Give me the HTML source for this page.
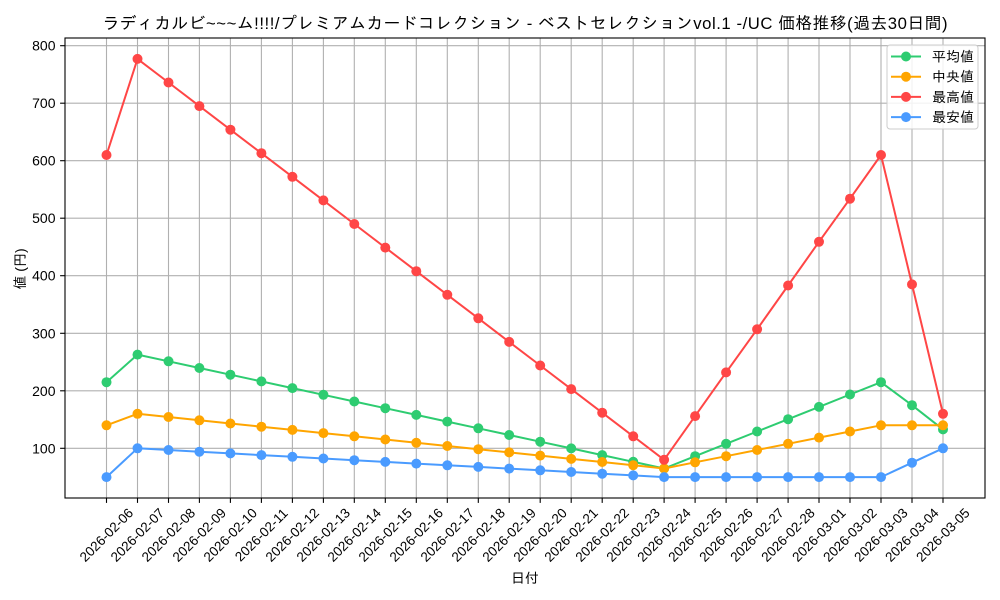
<!DOCTYPE html>
<html>
<head>
<meta charset="utf-8">
<style>
  html, body { margin: 0; padding: 0; background: #ffffff; }
  svg { display: block; font-family: "Liberation Sans", "IPAGothic", sans-serif; }
</style>
</head>
<body>
<svg width="1000" height="600" viewBox="0 0 1000 600" xmlns="http://www.w3.org/2000/svg">
  <defs>
    <marker id="mg" markerUnits="userSpaceOnUse" markerWidth="12" markerHeight="12" viewBox="0 0 12 12" refX="6" refY="6" overflow="visible"><circle cx="6" cy="6" r="5" fill="#2ecc71"/></marker>
    <marker id="mo" markerUnits="userSpaceOnUse" markerWidth="12" markerHeight="12" viewBox="0 0 12 12" refX="6" refY="6" overflow="visible"><circle cx="6" cy="6" r="5" fill="#ffa500"/></marker>
    <marker id="mr" markerUnits="userSpaceOnUse" markerWidth="12" markerHeight="12" viewBox="0 0 12 12" refX="6" refY="6" overflow="visible"><circle cx="6" cy="6" r="5" fill="#ff4646"/></marker>
    <marker id="mb" markerUnits="userSpaceOnUse" markerWidth="12" markerHeight="12" viewBox="0 0 12 12" refX="6" refY="6" overflow="visible"><circle cx="6" cy="6" r="5" fill="#4a9bff"/></marker>
  </defs>

  <rect x="0" y="0" width="1000" height="600" fill="#ffffff"/>

  <!-- Title -->
  <text x="525" y="29" text-anchor="middle" font-size="16.7" textLength="845" lengthAdjust="spacing" fill="#000">ラディカルビ~~~ム!!!!/プレミアムカードコレクション - ベストセレクションvol.1 -/UC 価格推移(過去30日間)</text>

  <!-- Grid -->
  <g stroke="#b0b0b0" stroke-width="1.1">
    <line x1="106.5" y1="38" x2="106.5" y2="498"/>
    <line x1="137.5" y1="38" x2="137.5" y2="498"/>
    <line x1="168.5" y1="38" x2="168.5" y2="498"/>
    <line x1="199.4" y1="38" x2="199.4" y2="498"/>
    <line x1="230.4" y1="38" x2="230.4" y2="498"/>
    <line x1="261.4" y1="38" x2="261.4" y2="498"/>
    <line x1="292.4" y1="38" x2="292.4" y2="498"/>
    <line x1="323.4" y1="38" x2="323.4" y2="498"/>
    <line x1="354.3" y1="38" x2="354.3" y2="498"/>
    <line x1="385.3" y1="38" x2="385.3" y2="498"/>
    <line x1="416.3" y1="38" x2="416.3" y2="498"/>
    <line x1="447.3" y1="38" x2="447.3" y2="498"/>
    <line x1="478.3" y1="38" x2="478.3" y2="498"/>
    <line x1="509.2" y1="38" x2="509.2" y2="498"/>
    <line x1="540.2" y1="38" x2="540.2" y2="498"/>
    <line x1="571.2" y1="38" x2="571.2" y2="498"/>
    <line x1="602.2" y1="38" x2="602.2" y2="498"/>
    <line x1="633.2" y1="38" x2="633.2" y2="498"/>
    <line x1="664.1" y1="38" x2="664.1" y2="498"/>
    <line x1="695.1" y1="38" x2="695.1" y2="498"/>
    <line x1="726.1" y1="38" x2="726.1" y2="498"/>
    <line x1="757.1" y1="38" x2="757.1" y2="498"/>
    <line x1="788.1" y1="38" x2="788.1" y2="498"/>
    <line x1="819.0" y1="38" x2="819.0" y2="498"/>
    <line x1="850.0" y1="38" x2="850.0" y2="498"/>
    <line x1="881.0" y1="38" x2="881.0" y2="498"/>
    <line x1="912.0" y1="38" x2="912.0" y2="498"/>
    <line x1="943.0" y1="38" x2="943.0" y2="498"/>

    <line x1="65" y1="448.3" x2="985" y2="448.3"/>
    <line x1="65" y1="390.8" x2="985" y2="390.8"/>
    <line x1="65" y1="333.3" x2="985" y2="333.3"/>
    <line x1="65" y1="275.7" x2="985" y2="275.7"/>
    <line x1="65" y1="218.2" x2="985" y2="218.2"/>
    <line x1="65" y1="160.7" x2="985" y2="160.7"/>
    <line x1="65" y1="103.2" x2="985" y2="103.2"/>
    <line x1="65" y1="45.7" x2="985" y2="45.7"/>
  </g>

  <!-- Series -->
  <g fill="none" stroke-width="2" stroke-linejoin="round" stroke-linecap="round">
    <polyline stroke="#2ecc71" marker-start="url(#mg)" marker-mid="url(#mg)" marker-end="url(#mg)"
      points="106.5,382.2 137.5,354.6 168.5,361.3 199.4,368.0 230.4,374.7 261.4,381.4 292.4,388.1 323.4,394.8 354.3,401.5 385.3,408.2 416.3,414.9 447.3,421.6 478.3,428.3 509.2,435.0 540.2,441.7 571.2,448.4 602.2,455.1 633.2,461.8 664.1,468.5 695.1,456.2 726.1,443.8 757.1,431.5 788.1,419.2 819.0,406.9 850.0,394.5 881.0,382.2 912.0,405.2 943.0,429.4"/>
    <polyline stroke="#ffa500" marker-start="url(#mo)" marker-mid="url(#mo)" marker-end="url(#mo)"
      points="106.5,425.3 137.5,413.8 168.5,417.0 199.4,420.3 230.4,423.5 261.4,426.7 292.4,429.9 323.4,433.1 354.3,436.3 385.3,439.5 416.3,442.8 447.3,446.0 478.3,449.2 509.2,452.4 540.2,455.6 571.2,458.9 602.2,462.0 633.2,465.2 664.1,468.5 695.1,462.3 726.1,456.2 757.1,450.0 788.1,443.8 819.0,437.6 850.0,431.5 881.0,425.3 912.0,425.3 943.0,425.3"/>
    <polyline stroke="#ff4646" marker-start="url(#mr)" marker-mid="url(#mr)" marker-end="url(#mr)"
      points="106.5,155.0 137.5,58.9 168.5,82.5 199.4,106.1 230.4,129.7 261.4,153.2 292.4,176.8 323.4,200.4 354.3,224.0 385.3,247.6 416.3,271.2 447.3,294.8 478.3,318.3 509.2,341.9 540.2,365.5 571.2,389.1 602.2,412.7 633.2,436.3 664.1,459.8 695.1,416.1 726.1,372.4 757.1,329.3 788.1,285.5 819.0,241.8 850.0,198.7 881.0,155.0 912.0,284.4 943.0,413.8"/>
    <polyline stroke="#4a9bff" marker-start="url(#mb)" marker-mid="url(#mb)" marker-end="url(#mb)"
      points="106.5,477.1 137.5,448.3 168.5,450.0 199.4,451.7 230.4,453.4 261.4,455.1 292.4,456.8 323.4,458.5 354.3,460.2 385.3,461.9 416.3,463.6 447.3,465.3 478.3,466.9 509.2,468.6 540.2,470.3 571.2,472.0 602.2,473.7 633.2,475.4 664.1,477.1 695.1,477.1 726.1,477.1 757.1,477.1 788.1,477.1 819.0,477.1 850.0,477.1 881.0,477.1 912.0,462.7 943.0,448.3"/>
  </g>

  <!-- Axes frame -->
  <rect x="65" y="38" width="920" height="460" fill="none" stroke="#000" stroke-width="1.1"/>

  <!-- Ticks -->
  <g stroke="#000" stroke-width="1.1">
    <line x1="60.1" y1="448.3" x2="65" y2="448.3"/>
    <line x1="60.1" y1="390.8" x2="65" y2="390.8"/>
    <line x1="60.1" y1="333.3" x2="65" y2="333.3"/>
    <line x1="60.1" y1="275.7" x2="65" y2="275.7"/>
    <line x1="60.1" y1="218.2" x2="65" y2="218.2"/>
    <line x1="60.1" y1="160.7" x2="65" y2="160.7"/>
    <line x1="60.1" y1="103.2" x2="65" y2="103.2"/>
    <line x1="60.1" y1="45.7" x2="65" y2="45.7"/>

    <line x1="106.5" y1="498" x2="106.5" y2="502.9"/>
    <line x1="137.5" y1="498" x2="137.5" y2="502.9"/>
    <line x1="168.5" y1="498" x2="168.5" y2="502.9"/>
    <line x1="199.4" y1="498" x2="199.4" y2="502.9"/>
    <line x1="230.4" y1="498" x2="230.4" y2="502.9"/>
    <line x1="261.4" y1="498" x2="261.4" y2="502.9"/>
    <line x1="292.4" y1="498" x2="292.4" y2="502.9"/>
    <line x1="323.4" y1="498" x2="323.4" y2="502.9"/>
    <line x1="354.3" y1="498" x2="354.3" y2="502.9"/>
    <line x1="385.3" y1="498" x2="385.3" y2="502.9"/>
    <line x1="416.3" y1="498" x2="416.3" y2="502.9"/>
    <line x1="447.3" y1="498" x2="447.3" y2="502.9"/>
    <line x1="478.3" y1="498" x2="478.3" y2="502.9"/>
    <line x1="509.2" y1="498" x2="509.2" y2="502.9"/>
    <line x1="540.2" y1="498" x2="540.2" y2="502.9"/>
    <line x1="571.2" y1="498" x2="571.2" y2="502.9"/>
    <line x1="602.2" y1="498" x2="602.2" y2="502.9"/>
    <line x1="633.2" y1="498" x2="633.2" y2="502.9"/>
    <line x1="664.1" y1="498" x2="664.1" y2="502.9"/>
    <line x1="695.1" y1="498" x2="695.1" y2="502.9"/>
    <line x1="726.1" y1="498" x2="726.1" y2="502.9"/>
    <line x1="757.1" y1="498" x2="757.1" y2="502.9"/>
    <line x1="788.1" y1="498" x2="788.1" y2="502.9"/>
    <line x1="819.0" y1="498" x2="819.0" y2="502.9"/>
    <line x1="850.0" y1="498" x2="850.0" y2="502.9"/>
    <line x1="881.0" y1="498" x2="881.0" y2="502.9"/>
    <line x1="912.0" y1="498" x2="912.0" y2="502.9"/>
    <line x1="943.0" y1="498" x2="943.0" y2="502.9"/>
  </g>

  <!-- Y tick labels -->
  <g font-size="14" text-anchor="end" dominant-baseline="central" fill="#000">
    <text x="55.5" y="448.3">100</text>
    <text x="55.5" y="390.8">200</text>
    <text x="55.5" y="333.3">300</text>
    <text x="55.5" y="275.7">400</text>
    <text x="55.5" y="218.2">500</text>
    <text x="55.5" y="160.7">600</text>
    <text x="55.5" y="103.2">700</text>
    <text x="55.5" y="45.7">800</text>
  </g>

  <!-- X tick labels -->
  <g font-size="13.5" text-anchor="middle" dominant-baseline="central" fill="#000">
    <text transform="translate(106.5,535) rotate(-45)">2026-02-06</text>
    <text transform="translate(137.5,535) rotate(-45)">2026-02-07</text>
    <text transform="translate(168.5,535) rotate(-45)">2026-02-08</text>
    <text transform="translate(199.4,535) rotate(-45)">2026-02-09</text>
    <text transform="translate(230.4,535) rotate(-45)">2026-02-10</text>
    <text transform="translate(261.4,535) rotate(-45)">2026-02-11</text>
    <text transform="translate(292.4,535) rotate(-45)">2026-02-12</text>
    <text transform="translate(323.4,535) rotate(-45)">2026-02-13</text>
    <text transform="translate(354.3,535) rotate(-45)">2026-02-14</text>
    <text transform="translate(385.3,535) rotate(-45)">2026-02-15</text>
    <text transform="translate(416.3,535) rotate(-45)">2026-02-16</text>
    <text transform="translate(447.3,535) rotate(-45)">2026-02-17</text>
    <text transform="translate(478.3,535) rotate(-45)">2026-02-18</text>
    <text transform="translate(509.2,535) rotate(-45)">2026-02-19</text>
    <text transform="translate(540.2,535) rotate(-45)">2026-02-20</text>
    <text transform="translate(571.2,535) rotate(-45)">2026-02-21</text>
    <text transform="translate(602.2,535) rotate(-45)">2026-02-22</text>
    <text transform="translate(633.2,535) rotate(-45)">2026-02-23</text>
    <text transform="translate(664.1,535) rotate(-45)">2026-02-24</text>
    <text transform="translate(695.1,535) rotate(-45)">2026-02-25</text>
    <text transform="translate(726.1,535) rotate(-45)">2026-02-26</text>
    <text transform="translate(757.1,535) rotate(-45)">2026-02-27</text>
    <text transform="translate(788.1,535) rotate(-45)">2026-02-28</text>
    <text transform="translate(819.0,535) rotate(-45)">2026-03-01</text>
    <text transform="translate(850.0,535) rotate(-45)">2026-03-02</text>
    <text transform="translate(881.0,535) rotate(-45)">2026-03-03</text>
    <text transform="translate(912.0,535) rotate(-45)">2026-03-04</text>
    <text transform="translate(943.0,535) rotate(-45)">2026-03-05</text>
  </g>

  <!-- Axis labels -->
  <text x="525" y="583" text-anchor="middle" font-size="14" fill="#000">日付</text>
  <text transform="translate(20,269) rotate(-90)" text-anchor="middle" dominant-baseline="central" font-size="14" fill="#000">値 (円)</text>

  <!-- Legend -->
  <rect x="887" y="45" width="91" height="84" rx="3" ry="3" fill="#ffffff" fill-opacity="0.85" stroke="#cccccc" stroke-width="1"/>
  <g stroke-width="2">
    <line x1="891" y1="56.5" x2="921" y2="56.5" stroke="#2ecc71"/>
    <line x1="891" y1="76.7" x2="921" y2="76.7" stroke="#ffa500"/>
    <line x1="891" y1="96.9" x2="921" y2="96.9" stroke="#ff4646"/>
    <line x1="891" y1="117.1" x2="921" y2="117.1" stroke="#4a9bff"/>
  </g>
  <circle cx="906" cy="56.5" r="5" fill="#2ecc71"/>
  <circle cx="906" cy="76.7" r="5" fill="#ffa500"/>
  <circle cx="906" cy="96.9" r="5" fill="#ff4646"/>
  <circle cx="906" cy="117.1" r="5" fill="#4a9bff"/>
  <g font-size="14" dominant-baseline="central" fill="#000">
    <text x="932" y="56.5">平均値</text>
    <text x="932" y="76.7">中央値</text>
    <text x="932" y="96.9">最高値</text>
    <text x="932" y="117.1">最安値</text>
  </g>
</svg>
</body>
</html>
